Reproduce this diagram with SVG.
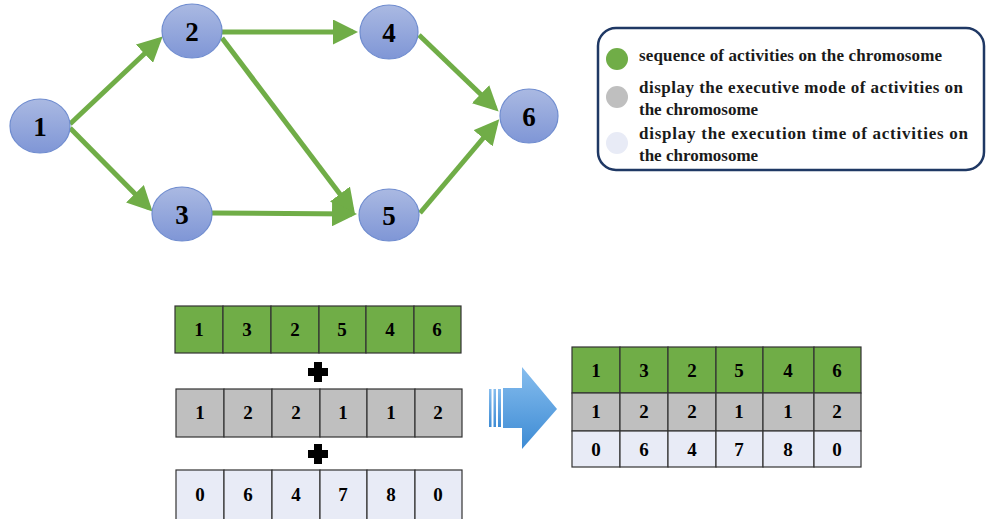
<svg xmlns="http://www.w3.org/2000/svg" width="986" height="519" viewBox="0 0 986 519">
<defs>
<linearGradient id="ng" x1="0" y1="0" x2="0" y2="1">
<stop offset="0" stop-color="#aab9e2"/>
<stop offset="1" stop-color="#7f96d6"/>
</linearGradient>
<linearGradient id="bg" x1="0" y1="0" x2="0" y2="1">
<stop offset="0" stop-color="#86bdee"/>
<stop offset="1" stop-color="#3d8bd4"/>
</linearGradient>
<marker id="ah" markerWidth="5" markerHeight="5" refX="4" refY="2.5" orient="auto" markerUnits="strokeWidth">
<path d="M0,0 L5,2.5 L0,5 Z" fill="#70ad47"/>
</marker>
</defs>
<style>
.node ellipse{fill:url(#ng);stroke:#6f8ccf;stroke-width:1.2}
.node text{font-family:"Liberation Serif",serif;font-weight:bold;font-size:27px;text-anchor:middle;fill:#000}
.edge{stroke:#70ad47;stroke-width:5;fill:none;marker-end:url(#ah)}
.lg{font-family:"Liberation Serif",serif;font-weight:bold;font-size:17px;fill:#1a1a1a}
.cell{stroke:#333;stroke-width:1.2}
.g{fill:#70ad47}.s{fill:#bfbfbf}.l{fill:#e8ebf6}
.ct{font-family:"Liberation Serif",serif;font-weight:bold;font-size:19px;text-anchor:middle;fill:#000}
</style>
<g id="connectors">
<line class="edge" x1="70" y1="124" x2="159" y2="40"/>
<line class="edge" x1="70" y1="128" x2="149" y2="208"/>
<line class="edge" x1="222" y1="32" x2="353" y2="32"/>
<line class="edge" x1="222" y1="38" x2="352" y2="210"/>
<line class="edge" x1="212" y1="213" x2="352" y2="214"/>
<line class="edge" x1="419" y1="35" x2="495" y2="108"/>
<line class="edge" x1="420" y1="213" x2="496" y2="123"/>
</g>
<g id="n1" class="node"><ellipse cx="40" cy="126" rx="30" ry="27"/><text x="40" y="136">1</text></g>
<g id="n2" class="node"><ellipse cx="192" cy="31" rx="30" ry="27"/><text x="192" y="41">2</text></g>
<g id="n3" class="node"><ellipse cx="182" cy="214" rx="30" ry="27"/><text x="182" y="224">3</text></g>
<g id="n4" class="node"><ellipse cx="389" cy="32" rx="29" ry="27"/><text x="389" y="42">4</text></g>
<g id="n5" class="node"><ellipse cx="389" cy="215" rx="30" ry="26"/><text x="389" y="225">5</text></g>
<g id="n6" class="node"><ellipse cx="529" cy="116" rx="29" ry="27"/><text x="529" y="126">6</text></g>
<g id="legend">
<rect x="598" y="28" width="386" height="142" rx="18" fill="#fff" stroke="#1f3864" stroke-width="2.5"/>
<circle cx="617" cy="59" r="11" fill="#70ad47"/>
<circle cx="617" cy="97" r="11" fill="#bfbfbf"/>
<circle cx="617" cy="143" r="11" fill="#e8ebf6"/>
<text class="lg" x="639" y="61" textLength="303" lengthAdjust="spacing">sequence of activities on the chromosome</text>
<text class="lg" x="639" y="93" textLength="324" lengthAdjust="spacing">display the executive mode of activities on</text>
<text class="lg" x="639" y="115">the chromosome</text>
<text class="lg" x="639" y="139" textLength="329" lengthAdjust="spacing">display the execution time of activities on</text>
<text class="lg" x="639" y="161">the chromosome</text>
</g>
<g id="row-seq">
<rect class="cell g" x="175" y="306" width="48" height="47"/>
<rect class="cell g" x="223" y="306" width="48" height="47"/>
<rect class="cell g" x="271" y="306" width="48" height="47"/>
<rect class="cell g" x="319" y="306" width="47" height="47"/>
<rect class="cell g" x="366" y="306" width="48" height="47"/>
<rect class="cell g" x="414" y="306" width="47" height="47"/>
<text class="ct" x="199" y="336">1</text><text class="ct" x="247" y="336">3</text><text class="ct" x="295" y="336">2</text><text class="ct" x="342" y="336">5</text><text class="ct" x="390" y="336">4</text><text class="ct" x="437" y="336">6</text>
</g>
<g id="plus1"><path d="M314,362 h8 v6 h6 v8 h-6 v6 h-8 v-6 h-6 v-8 h6 z" fill="#000"/></g>
<g id="row-mode">
<rect class="cell s" x="176" y="389" width="48" height="48"/>
<rect class="cell s" x="224" y="389" width="48" height="48"/>
<rect class="cell s" x="272" y="389" width="48" height="48"/>
<rect class="cell s" x="320" y="389" width="47" height="48"/>
<rect class="cell s" x="367" y="389" width="48" height="48"/>
<rect class="cell s" x="415" y="389" width="47" height="48"/>
<text class="ct" x="200" y="419">1</text><text class="ct" x="248" y="419">2</text><text class="ct" x="296" y="419">2</text><text class="ct" x="343" y="419">1</text><text class="ct" x="391" y="419">1</text><text class="ct" x="438" y="419">2</text>
</g>
<g id="plus2"><path d="M314,444 h8 v6 h6 v8 h-6 v6 h-8 v-6 h-6 v-8 h6 z" fill="#000"/></g>
<g id="row-time">
<rect class="cell l" x="176" y="470" width="48" height="50"/>
<rect class="cell l" x="224" y="470" width="48" height="50"/>
<rect class="cell l" x="272" y="470" width="48" height="50"/>
<rect class="cell l" x="320" y="470" width="47" height="50"/>
<rect class="cell l" x="367" y="470" width="48" height="50"/>
<rect class="cell l" x="415" y="470" width="47" height="50"/>
<text class="ct" x="200" y="501">0</text><text class="ct" x="248" y="501">6</text><text class="ct" x="296" y="501">4</text><text class="ct" x="343" y="501">7</text><text class="ct" x="391" y="501">8</text><text class="ct" x="438" y="501">0</text>
</g>
<g id="big-arrow">
<path d="M503,388 H522 V367 L557,409 L522,449 V428 H503 Z" fill="url(#bg)"/>
<rect x="489" y="389" width="2.5" height="38" fill="url(#bg)"/>
<rect x="493.5" y="389" width="2.5" height="38" fill="url(#bg)"/>
<rect x="498" y="389" width="3" height="38" fill="url(#bg)"/>
</g>
<g id="result-table">
<rect class="cell g" x="572" y="347" width="48" height="46"/>
<rect class="cell g" x="620" y="347" width="48" height="46"/>
<rect class="cell g" x="668" y="347" width="48" height="46"/>
<rect class="cell g" x="716" y="347" width="47" height="46"/>
<rect class="cell g" x="763" y="347" width="51" height="46"/>
<rect class="cell g" x="814" y="347" width="47" height="46"/>
<rect class="cell s" x="572" y="393" width="48" height="38"/>
<rect class="cell s" x="620" y="393" width="48" height="38"/>
<rect class="cell s" x="668" y="393" width="48" height="38"/>
<rect class="cell s" x="716" y="393" width="47" height="38"/>
<rect class="cell s" x="763" y="393" width="51" height="38"/>
<rect class="cell s" x="814" y="393" width="47" height="38"/>
<rect class="cell l" x="572" y="431" width="48" height="36"/>
<rect class="cell l" x="620" y="431" width="48" height="36"/>
<rect class="cell l" x="668" y="431" width="48" height="36"/>
<rect class="cell l" x="716" y="431" width="47" height="36"/>
<rect class="cell l" x="763" y="431" width="51" height="36"/>
<rect class="cell l" x="814" y="431" width="47" height="36"/>
<text class="ct" x="596" y="377">1</text><text class="ct" x="644" y="377">3</text><text class="ct" x="692" y="377">2</text><text class="ct" x="739" y="377">5</text><text class="ct" x="788" y="377">4</text><text class="ct" x="837" y="377">6</text>
<text class="ct" x="596" y="418">1</text><text class="ct" x="644" y="418">2</text><text class="ct" x="692" y="418">2</text><text class="ct" x="739" y="418">1</text><text class="ct" x="788" y="418">1</text><text class="ct" x="837" y="418">2</text>
<text class="ct" x="596" y="456">0</text><text class="ct" x="644" y="456">6</text><text class="ct" x="692" y="456">4</text><text class="ct" x="739" y="456">7</text><text class="ct" x="788" y="456">8</text><text class="ct" x="837" y="456">0</text>
</g>
</svg>
